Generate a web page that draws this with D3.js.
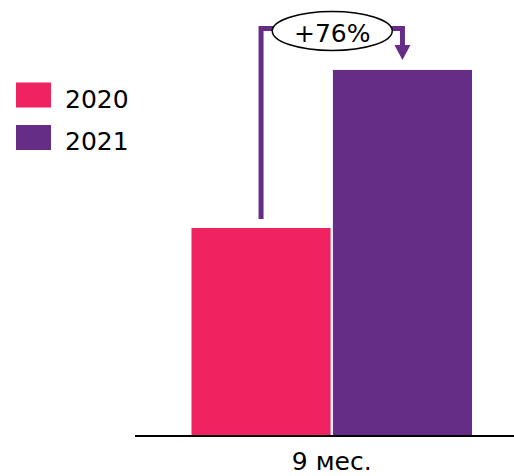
<!DOCTYPE html>
<html>
<head>
<meta charset="utf-8">
<script src="https://cdn.jsdelivr.net/npm/d3@7"></script>
<style>
  html, body { margin: 0; padding: 0; background: #fff; }
  svg { display: block; font-family: "DejaVu Sans", Verdana, sans-serif; }
</style>
</head>
<body>
<svg id="chart" width="514" height="476"></svg>
<script>
// Period on the category axis
const categories = ["9 мес."];
// Series (years) and their relative values
const seriesNames = ["2020", "2021"];
const values2020 = [100];
const values2021 = [176];
const seriesColors = ["#EF2360", "#652D86"];

const svg = d3.select("#chart");
const baseY = 436;

const y = d3.scaleLinear().domain([0, 200]).range([baseY, 20]);

const x0 = d3.scaleBand().domain(categories).range([191.5, 472]).padding(0);
const x1 = d3.scaleBand().domain(seriesNames).range([0, x0.bandwidth()])
  .paddingInner(0.0163).paddingOuter(0);

const color = d3.scaleOrdinal().domain(seriesNames).range(seriesColors);

const rows = categories.map((c, i) => ({
  category: c,
  values: [
    { name: seriesNames[0], value: values2020[i] },
    { name: seriesNames[1], value: values2021[i] }
  ]
}));

// Bars
const groups = svg.selectAll("g.cat").data(rows).join("g")
  .attr("class", "cat")
  .attr("transform", d => `translate(${x0(d.category)},0)`);

groups.selectAll("rect").data(d => d.values).join("rect")
  .attr("x", d => x1(d.name))
  .attr("y", d => y(d.value))
  .attr("width", x1.bandwidth())
  .attr("height", d => y(0) - y(d.value))
  .attr("fill", d => color(d.name));

// Baseline axis with category label
const axis = d3.axisBottom(d3.scaleBand().domain(categories).range([135, 514]))
  .tickSize(0);
const axisG = svg.append("g").attr("transform", `translate(0,${baseY})`).call(axis);
axisG.select(".domain").attr("stroke", "#000").attr("stroke-width", 2)
  .attr("d", "M135,0H514");
axisG.selectAll(".tick text")
  .attr("x", x0(categories[0]) + x0.bandwidth() / 2 - (135 + 514) / 2)
  .attr("y", 34).attr("dy", 0)
  .attr("font-size", 25).attr("fill", "#000")
  .attr("font-family", "'DejaVu Sans', Verdana, sans-serif");

// Growth arrow from the first bar to the second
rows.forEach(r => {
  const a = r.values[0], b = r.values[1];
  const ax = x0(r.category) + x1(a.name) + x1.bandwidth() / 2;
  const bx = x0(r.category) + x1(b.name) + x1.bandwidth() / 2;
  const topY = 28.5;
  const startY = y(a.value) - 9;
  const tipY = y(b.value) - 10;
  const headH = 15, headW = 8;
  const arrowColor = seriesColors[1];

  svg.append("path")
    .attr("d", `M${ax},${startY}V${topY}H${bx}V${tipY - headH + 1}`)
    .attr("fill", "none").attr("stroke", arrowColor).attr("stroke-width", 5)
    .attr("stroke-linejoin", "miter");
  svg.append("path")
    .attr("d", `M${bx - headW},${tipY - headH}L${bx + headW},${tipY - headH}L${bx},${tipY}Z`)
    .attr("fill", arrowColor);

  const growth = b.value / a.value - 1;
  const cx = (ax + bx) / 2 + 0.5;
  svg.append("ellipse")
    .attr("cx", cx).attr("cy", 31).attr("rx", 60).attr("ry", 19.5)
    .attr("fill", "#fff").attr("stroke", "#000").attr("stroke-width", 1.5);
  svg.append("text")
    .attr("x", cx).attr("y", 41.5)
    .attr("text-anchor", "middle").attr("font-size", 25).attr("fill", "#000")
    .text(d3.format("+.0%")(growth));
});

// Legend
const legend = svg.append("g").selectAll("g").data(seriesNames).join("g")
  .attr("transform", (d, i) => `translate(16,${82.5 + i * 42.5})`);
legend.append("rect")
  .attr("width", 35).attr("height", 25)
  .attr("fill", d => color(d));
legend.append("text")
  .attr("x", 49).attr("y", 25)
  .attr("font-size", 25).attr("fill", "#000")
  .text(d => d);
</script>
</body>
</html>
